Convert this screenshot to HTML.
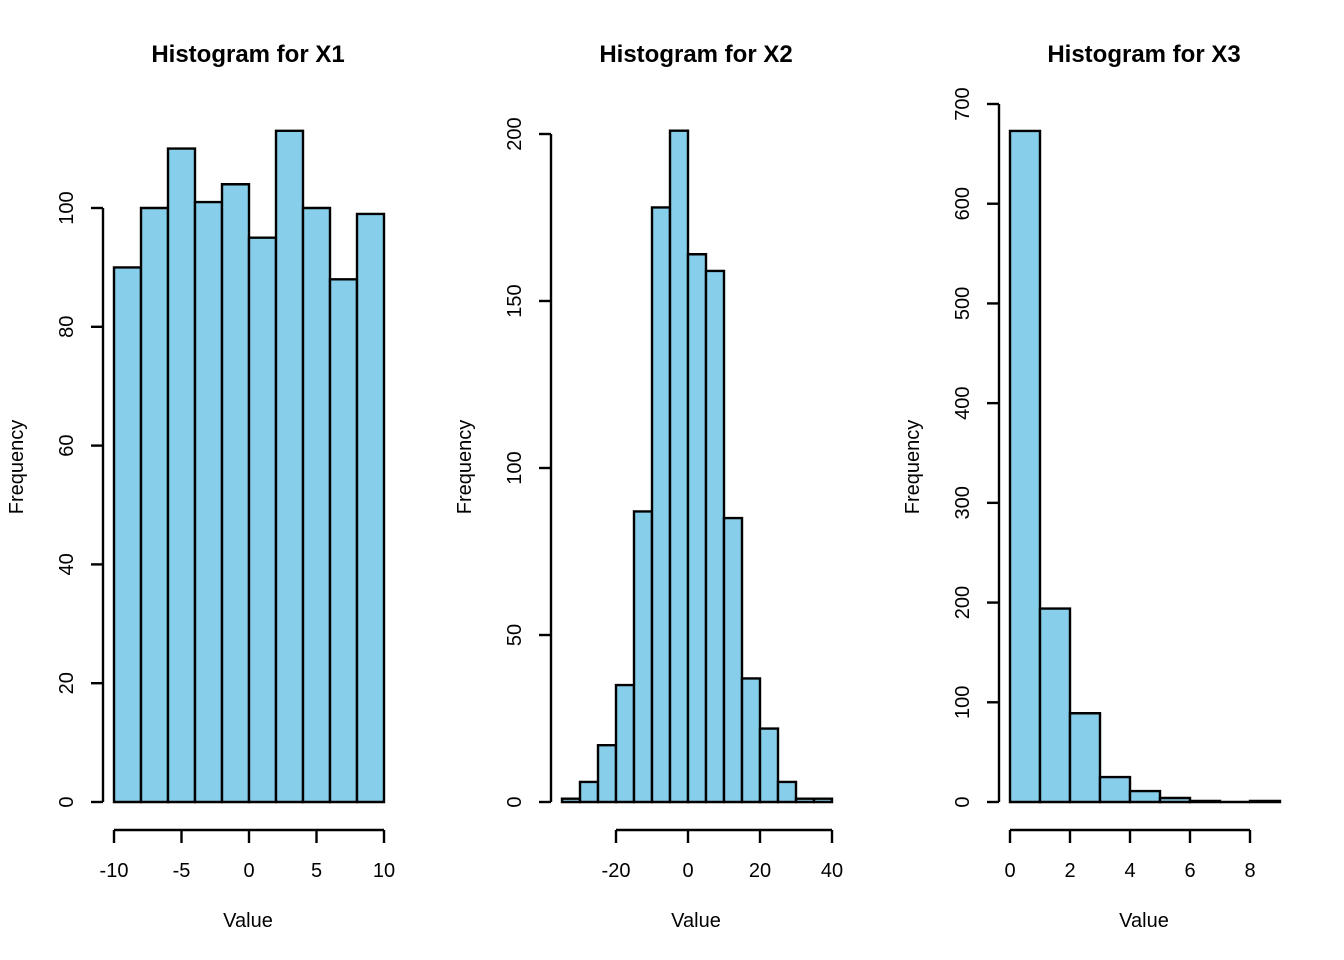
<!DOCTYPE html>
<html><head><meta charset="utf-8"><style>
html,body{margin:0;padding:0;background:#fff}
svg{display:block;font-family:"Liberation Sans",Arial,sans-serif}
</style></head><body>
<svg id="chart" width="1344" height="960" xmlns="http://www.w3.org/2000/svg"></svg>
<script>
// Panel 1 (X1)
const x1Breaks = [-10,-8,-6,-4,-2,0,2,4,6,8,10];
const x1Counts = [90,100,110,101,104,95,113,100,88,99];
const x1XTicks = [-10,-5,0,5,10];
const x1YTicks = [0,20,40,60,80,100];
// Panel 2 (X2)
const x2Breaks = [-35,-30,-25,-20,-15,-10,-5,0,5,10,15,20,25,30,35,40];
const x2Counts = [1,6,17,35,87,178,201,164,159,85,37,22,6,1,1];
const x2XTicks = [-20,0,20,40];
const x2YTicks = [0,50,100,150,200];
// Panel 3 (X3)
const x3Breaks = [0,1,2,3,4,5,6,7,8,9];
const x3Counts = [673,194,89,25,11,4,1,0,1];
const x3XTicks = [0,2,4,6,8];
const x3YTicks = [0,100,200,300,400,500,600,700];

const panels = [
  {id:'x1', title:'Histogram for X1', breaks:x1Breaks, counts:x1Counts, xt:x1XTicks, yt:x1YTicks,
   x0:-10, px0:114, x1:10, px1:384, yAxisX:103, yMaxPx:208},
  {id:'x2', title:'Histogram for X2', breaks:x2Breaks, counts:x2Counts, xt:x2XTicks, yt:x2YTicks,
   x0:-20, px0:616, x1:40, px1:832, yAxisX:551, yMaxPx:134},
  {id:'x3', title:'Histogram for X3', breaks:x3Breaks, counts:x3Counts, xt:x3XTicks, yt:x3YTicks,
   x0:0, px0:1010, x1:8, px1:1250, yAxisX:999, yMaxPx:104}
];
const NS='http://www.w3.org/2000/svg';
const svg=document.getElementById('chart');
function mk(tag,attrs,parent){const e=document.createElementNS(NS,tag);for(const k in attrs)e.setAttribute(k,attrs[k]);(parent||svg).appendChild(e);return e;}
const Y0=802;
const SW=2.4;
panels.forEach((p,i)=>{
  const g=mk('g',{});
  
  
  const xs=v=>p.px0+(v-p.x0)*(p.px1-p.px0)/(p.x1-p.x0);
  const ymax=p.yt[p.yt.length-1];
  const ys=v=>Y0-v*(Y0-p.yMaxPx)/ymax;
  const center=134+i*448+114;
  const t=mk('text',{x:center,y:62,'text-anchor':'middle','font-size':24,'font-weight':'bold'},g);
  t.textContent=p.title;
  
  
  p.counts.forEach((c,j)=>{
    const xa=xs(p.breaks[j]), xb=xs(p.breaks[j+1]), yt=ys(c);
    const r=mk('path',{d:`M${xa},${Y0}L${xa},${yt}L${xb},${yt}L${xb},${Y0}Z`,fill:'#87CEEB',stroke:'#000','stroke-width':SW},g);
    
    
  });
  const xa=mk('g',{},g);
  
  
  mk('line',{x1:xs(p.xt[0]),x2:xs(p.xt[p.xt.length-1]),y1:830,y2:830,stroke:'#000','stroke-width':SW},xa);
  p.xt.forEach(v=>{
    mk('line',{x1:xs(v),x2:xs(v),y1:830,y2:843,stroke:'#000','stroke-width':SW},xa);
    const tl=mk('text',{x:xs(v),y:877,'text-anchor':'middle','font-size':20},xa);
    tl.textContent=v;
    
    
  });
  const xt=mk('text',{x:center,y:927,'text-anchor':'middle','font-size':20},g);
  xt.textContent='Value';
  
  
  const ya=mk('g',{},g);
  
  
  mk('line',{x1:p.yAxisX,x2:p.yAxisX,y1:ys(0),y2:ys(ymax),stroke:'#000','stroke-width':SW},ya);
  p.yt.forEach(v=>{
    mk('line',{x1:p.yAxisX-12,x2:p.yAxisX,y1:ys(v),y2:ys(v),stroke:'#000','stroke-width':SW},ya);
    const lx=p.yAxisX-30;
    const tl=mk('text',{x:lx,y:ys(v),'text-anchor':'middle','font-size':20,transform:`rotate(-90 ${lx} ${ys(v)})`},ya);
    tl.textContent=v;
    
    
  });
  const fx=23+i*448;
  const ft=mk('text',{x:fx,y:467,'text-anchor':'middle','font-size':20,transform:`rotate(-90 ${fx} 467)`},g);
  ft.textContent='Frequency';
  
  
});
</script>
</body></html>
